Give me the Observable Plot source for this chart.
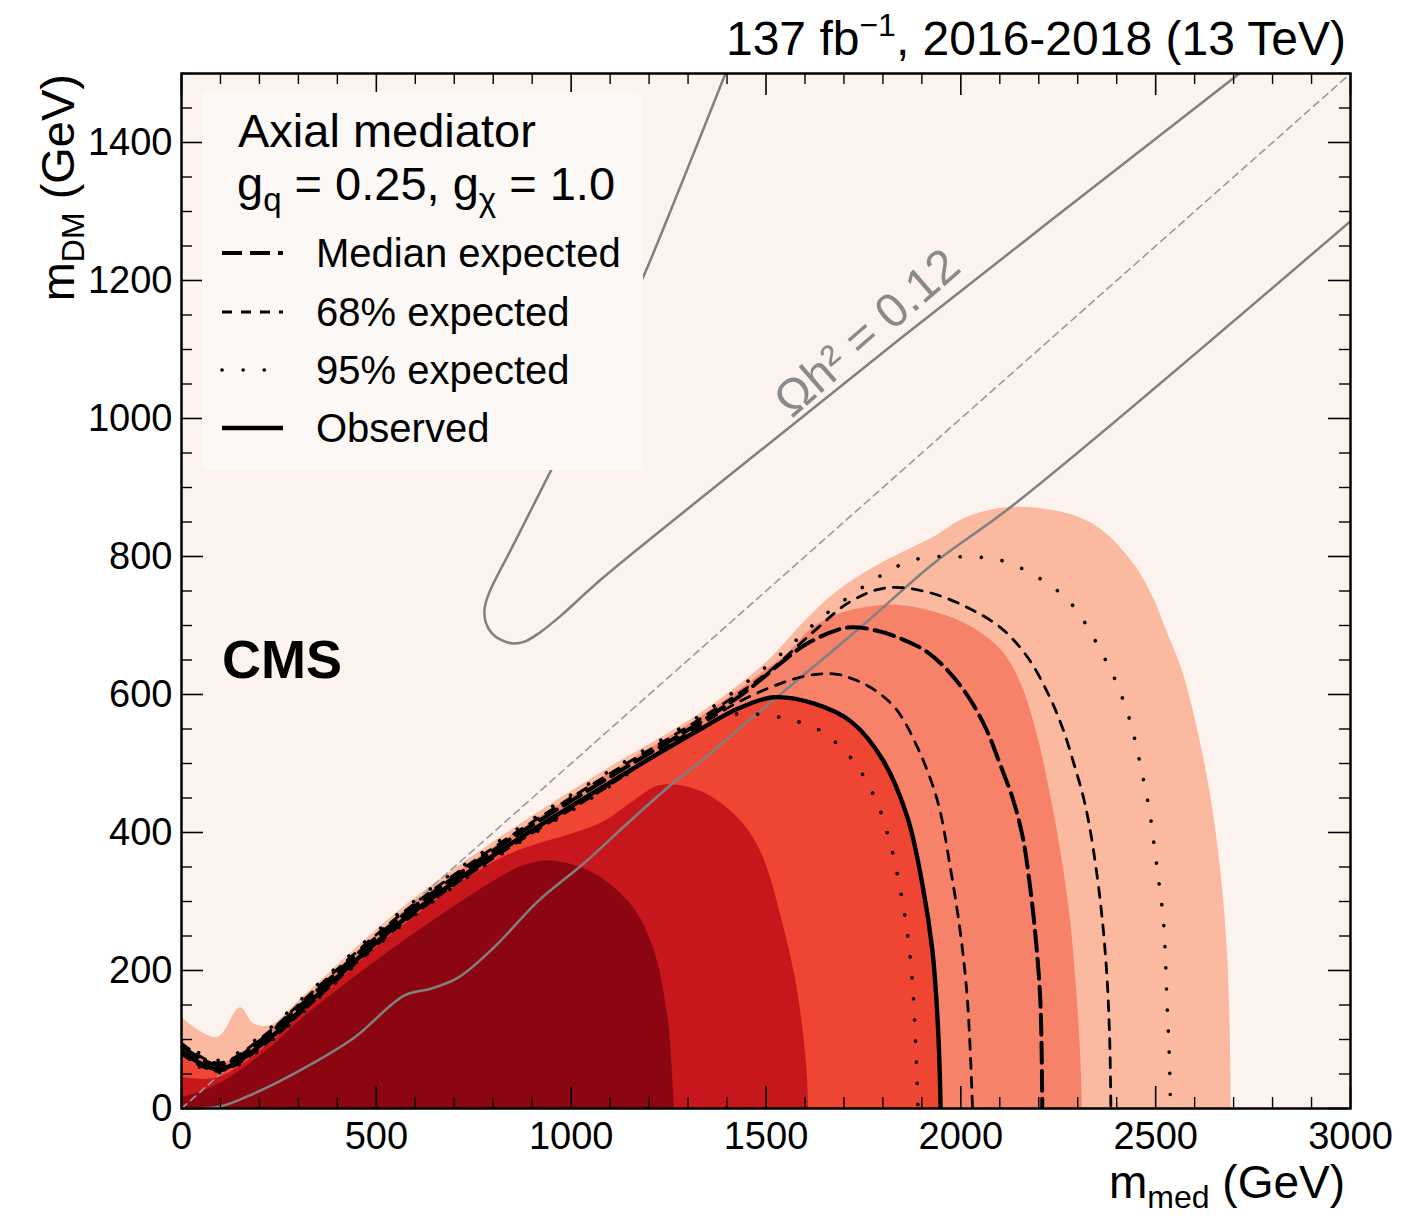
<!DOCTYPE html>
<html>
<head>
<meta charset="utf-8">
<script src="https://cdn.jsdelivr.net/npm/d3@7"></script>
<script src="https://cdn.jsdelivr.net/npm/@observablehq/plot@0.6"></script>
<style>
  body { margin: 0; background: #ffffff; }
  #chart svg { display: block; }
</style>
</head>
<body>
<div id="chart"></div>
<script>
// ---------------- data (m_med, m_DM) in GeV ----------------
const xMajor = [0, 500, 1000, 1500, 2000, 2500, 3000];
const yMajor = [0, 200, 400, 600, 800, 1000, 1200, 1400];
const xMinor = d3.range(0, 3001, 100).filter(d => d % 500 !== 0);
const yMinor = d3.range(0, 1501, 50).filter(d => d % 200 !== 0);

// filled exclusion bands (upper edge of each band)
const lightBand = [[0,132],[92,103],[151,146],[185,123],[228,120],[305,158],[562,288],[819,393],[1075,486],[1332,573],[1504,648],[1590,700],[1673,745],[1750,775],[1812,795],[1930,828],[2017,857],[2127,871],[2273,862],[2358,840],[2443,790],[2490,745],[2530,690],[2571,630],[2615,530],[2645,440],[2668,340],[2684,229],[2691,120],[2694,0]];
const salmonBand = [[0,95],[95,65],[228,112],[305,152],[562,280],[819,385],[1075,478],[1332,567],[1500,635],[1555,659],[1622,697],[1691,717],[1770,727],[1845,729],[1973,712],[2060,686],[2110,660],[2155,615],[2197,540],[2228,460],[2256,374],[2280,280],[2296,180],[2307,84],[2312,0]];
const crimsonBand = [[0,45],[95,45],[228,95],[305,135],[562,262],[819,362],[1075,413],[1160,445],[1229,468],[1330,460],[1417,427],[1470,390],[1503,349],[1537,282],[1575,190],[1598,100],[1607,40],[1609,0]];
const darkBand = [[0,15],[95,35],[228,88],[305,128],[562,239],[819,335],[880,352],[939,359],[1010,352],[1075,335],[1160,291],[1211,233],[1247,138],[1258,70],[1265,0]];

// limit contours
const observed = [[0,83],[95,57],[228,103],[305,142],[562,270],[819,374],[1075,464],[1332,550],[1430,580],[1519,596],[1622,587],[1720,560],[1801,504],[1863,422],[1901,326],[1927,229],[1940,132],[1946,50],[1948,0]];
const expMedian = [[0,91],[95,63],[228,110],[305,149],[562,277],[819,381],[1075,472],[1332,560],[1450,605],[1537,645],[1606,674],[1709,697],[1780,693],[1850,680],[1910,663],[1966,635],[2020,596],[2065,550],[2100,500],[2135,446],[2160,390],[2178,320],[2191,254],[2204,157],[2209,0]];
const expMinus1 = [[0,79],[95,54],[228,99],[305,138],[562,266],[819,370],[1075,460],[1332,556],[1450,595],[1588,625],[1673,630],[1725,622],[1780,606],[1835,578],[1889,523],[1940,446],[1973,349],[1999,254],[2017,157],[2030,0]];
const expPlus1 = [[0,95],[95,66],[228,113],[305,153],[562,281],[819,385],[1075,477],[1332,565],[1500,630],[1620,690],[1709,732],[1786,752],[1845,755],[1930,746],[2017,726],[2102,697],[2170,655],[2225,600],[2262,550],[2290,500],[2315,450],[2333,400],[2358,300],[2374,200],[2382,100],[2385,0]];
const expMinus2 = [[0,76],[95,52],[228,97],[305,136],[562,264],[819,368],[1075,458],[1300,545],[1365,562],[1427,572],[1537,567],[1596,558],[1647,545],[1730,500],[1760,471],[1786,442],[1819,384],[1845,316],[1863,254],[1876,181],[1884,94],[1890,0]];
const expPlus2 = [[0,99],[95,70],[228,117],[305,157],[562,285],[819,389],[1075,481],[1332,570],[1500,640],[1650,715],[1760,760],[1812,778],[1853,790],[1914,799],[2025,799],[2084,797],[2140,787],[2191,772],[2238,755],[2281,733],[2315,707],[2345,678],[2397,620],[2435,560],[2461,497],[2484,432],[2499,369],[2510,320],[2520,272],[2530,142],[2535,77],[2538,0]];

// relic density Ωh² = 0.12 contours
const relicUpper = [[1396,1500],[1290,1350],[1188,1209],[1060,1050],[944,920],[850,815],[790,748],[778,725],[781,704],[796,689],[820,679],[850,674],[882,677],[920,690],[973,714],[1075,766],[1332,884],[1845,1116],[2715,1500]];
const relicLower = [[0,0],[100,3],[187,22],[316,59],[444,103],[572,164],[642,174],[711,190],[801,233],[916,301],[1032,355],[1144,413],[1260,471],[1352,512],[1409,540],[1742,697],[1930,790],[2138,876],[3000,1286]];
const diagonal = [[0,0],[3000,1500]];
const relicLabel = [{x: 1760, y: 1124, text: "Ωh² = 0.12"}];

// ---------------- styling ----------------
const FONT = "'Liberation Sans', Arial, Helvetica, sans-serif";
const C = {
  bg: "#fdf3ee", light: "#fbb9a0", salmon: "#f7826a", red: "#ef4533",
  crimson: "#c8161d", dark: "#8c0611", gray: "#808080"
};
const toObj = arr => arr.map(([x, y]) => ({x, y}));

const W = 1404, H = 1215;
const mL = 181, mR = 54, mT = 73, mB = 107;
const FW = W - mL - mR, FH = H - mT - mB;
const major = 22, minor = 11;

const dash = {
  median: {strokeWidth: 4, strokeDasharray: "20,8"},
  s68: {strokeWidth: 2.8, strokeDasharray: "10,9"},
  s95: {strokeWidth: 3.6, strokeDasharray: "0.1,21", strokeLinecap: "round"},
  obs: {strokeWidth: 4.4}
};

const area = (arr, fill) => Plot.areaY(toObj(arr), {x: "x", y: "y", fill, curve: "catmull-rom", clip: true});
const line = (arr, opts) => Plot.line(toObj(arr), {x: "x", y: "y", stroke: "black", curve: "catmull-rom", clip: true, ...opts});

const chart = Plot.plot({
  width: W, height: H,
  marginLeft: mL, marginRight: mR, marginTop: mT, marginBottom: mB,
  x: {domain: [0, 3000]},
  y: {domain: [0, 1500]},
  style: {fontFamily: FONT, fontSize: "38px", color: "black", background: "white"},
  marks: [
    Plot.frame({fill: C.bg, stroke: "none"}),
    area(lightBand, C.light),
    area(salmonBand, C.salmon),
    area(observed, C.red),
    area(crimsonBand, C.crimson),
    area(darkBand, C.dark),
    // relic lines
    line(diagonal, {stroke: "#9a9a9a", strokeWidth: 1.6, strokeDasharray: "7,5", curve: "linear"}),
    line(relicUpper, {stroke: C.gray, strokeWidth: 2.5}),
    line(relicLower, {stroke: C.gray, strokeWidth: 2.5}),
    Plot.text(relicLabel, {x: "x", y: "y", text: "text", rotate: -41, fontSize: 48, fill: "#8a8a8a"}),
    // limits
    line(expMinus2, dash.s95),
    line(expPlus2, dash.s95),
    line(expMinus1, dash.s68),
    line(expPlus1, dash.s68),
    line(expMedian, dash.median),
    line(observed, dash.obs),
    // ticks (inward, all sides)
    Plot.ruleX(xMajor, {insetTop: FH - major, stroke: "black", strokeWidth: 1.6}),
    Plot.ruleX(xMajor, {insetBottom: FH - major, stroke: "black", strokeWidth: 1.6}),
    Plot.ruleX(xMinor, {insetTop: FH - minor, stroke: "black", strokeWidth: 1.4}),
    Plot.ruleX(xMinor, {insetBottom: FH - minor, stroke: "black", strokeWidth: 1.4}),
    Plot.ruleY(yMajor, {insetRight: FW - major, stroke: "black", strokeWidth: 1.6}),
    Plot.ruleY(yMajor, {insetLeft: FW - major, stroke: "black", strokeWidth: 1.6}),
    Plot.ruleY(yMinor, {insetRight: FW - minor, stroke: "black", strokeWidth: 1.4}),
    Plot.ruleY(yMinor, {insetLeft: FW - minor, stroke: "black", strokeWidth: 1.4}),
    // tick labels
    Plot.axisX({anchor: "bottom", ticks: xMajor, tickSize: 0, tickPadding: 14, label: null, tickFormat: d => String(d), fontSize: 38}),
    Plot.axisY({anchor: "left", ticks: yMajor, tickSize: 0, tickPadding: 9, label: null, tickFormat: d => String(d), fontSize: 38}),
    Plot.frame({stroke: "black", strokeWidth: 2.5})
  ]
});
document.getElementById("chart").appendChild(chart);

// ---------------- annotations (text) ----------------
const svg = d3.select(chart);
const ann = svg.append("g").attr("font-family", FONT).attr("fill", "black").attr("text-anchor", "start");

// title
const title = ann.append("text").attr("x", 1346).attr("y", 55).attr("text-anchor", "end").attr("font-size", 48);
title.append("tspan").text("137 fb");
title.append("tspan").attr("font-size", 32).attr("dy", -19).text("−1");
title.append("tspan").attr("dy", 19).text(", 2016-2018 (13 TeV)");

// x axis title
const xt = ann.append("text").attr("x", 1345).attr("y", 1198).attr("text-anchor", "end").attr("font-size", 46);
xt.append("tspan").text("m");
xt.append("tspan").attr("font-size", 32).attr("dy", 10).text("med");
xt.append("tspan").attr("dy", -10).text(" (GeV)");

// y axis title
const yt = ann.append("text").attr("transform", "translate(74,74) rotate(-90)").attr("text-anchor", "end").attr("font-size", 47);
yt.append("tspan").text("m");
yt.append("tspan").attr("font-size", 32).attr("dy", 10).text("DM");
yt.append("tspan").attr("dy", -10).text(" (GeV)");

// CMS label
ann.append("text").attr("x", 222).attr("y", 678).attr("font-size", 54).attr("font-weight", "bold").text("CMS");

// legend
const lg = ann.append("g");
lg.append("rect").attr("x", 202).attr("y", 92).attr("width", 441).attr("height", 378).attr("rx", 5).attr("fill", "#fcf8f6");
lg.append("text").attr("x", 238).attr("y", 147).attr("font-size", 47).text("Axial mediator");
const gq = lg.append("text").attr("x", 237).attr("y", 200).attr("font-size", 47);
gq.append("tspan").text("g");
gq.append("tspan").attr("font-size", 33).attr("dy", 11).text("q");
gq.append("tspan").attr("dy", -11).text(" = 0.25, g");
gq.append("tspan").attr("font-size", 33).attr("dy", 11).text("χ");
gq.append("tspan").attr("dy", -11).text(" = 1.0");

const entries = [
  {label: "Median expected", y: 253, st: dash.median},
  {label: "68% expected", y: 312, st: dash.s68},
  {label: "95% expected", y: 370, st: dash.s95},
  {label: "Observed", y: 428, st: dash.obs}
];
for (const e of entries) {
  lg.append("line").attr("x1", 222).attr("x2", 283).attr("y1", e.y).attr("y2", e.y)
    .attr("stroke", "black").attr("stroke-width", e.st.strokeWidth)
    .attr("stroke-dasharray", e.st.strokeDasharray || null)
    .attr("stroke-linecap", e.st.strokeLinecap || "butt");
  lg.append("text").attr("x", 316).attr("y", e.y + 14).attr("font-size", 40).text(e.label);
}
</script>
</body>
</html>
